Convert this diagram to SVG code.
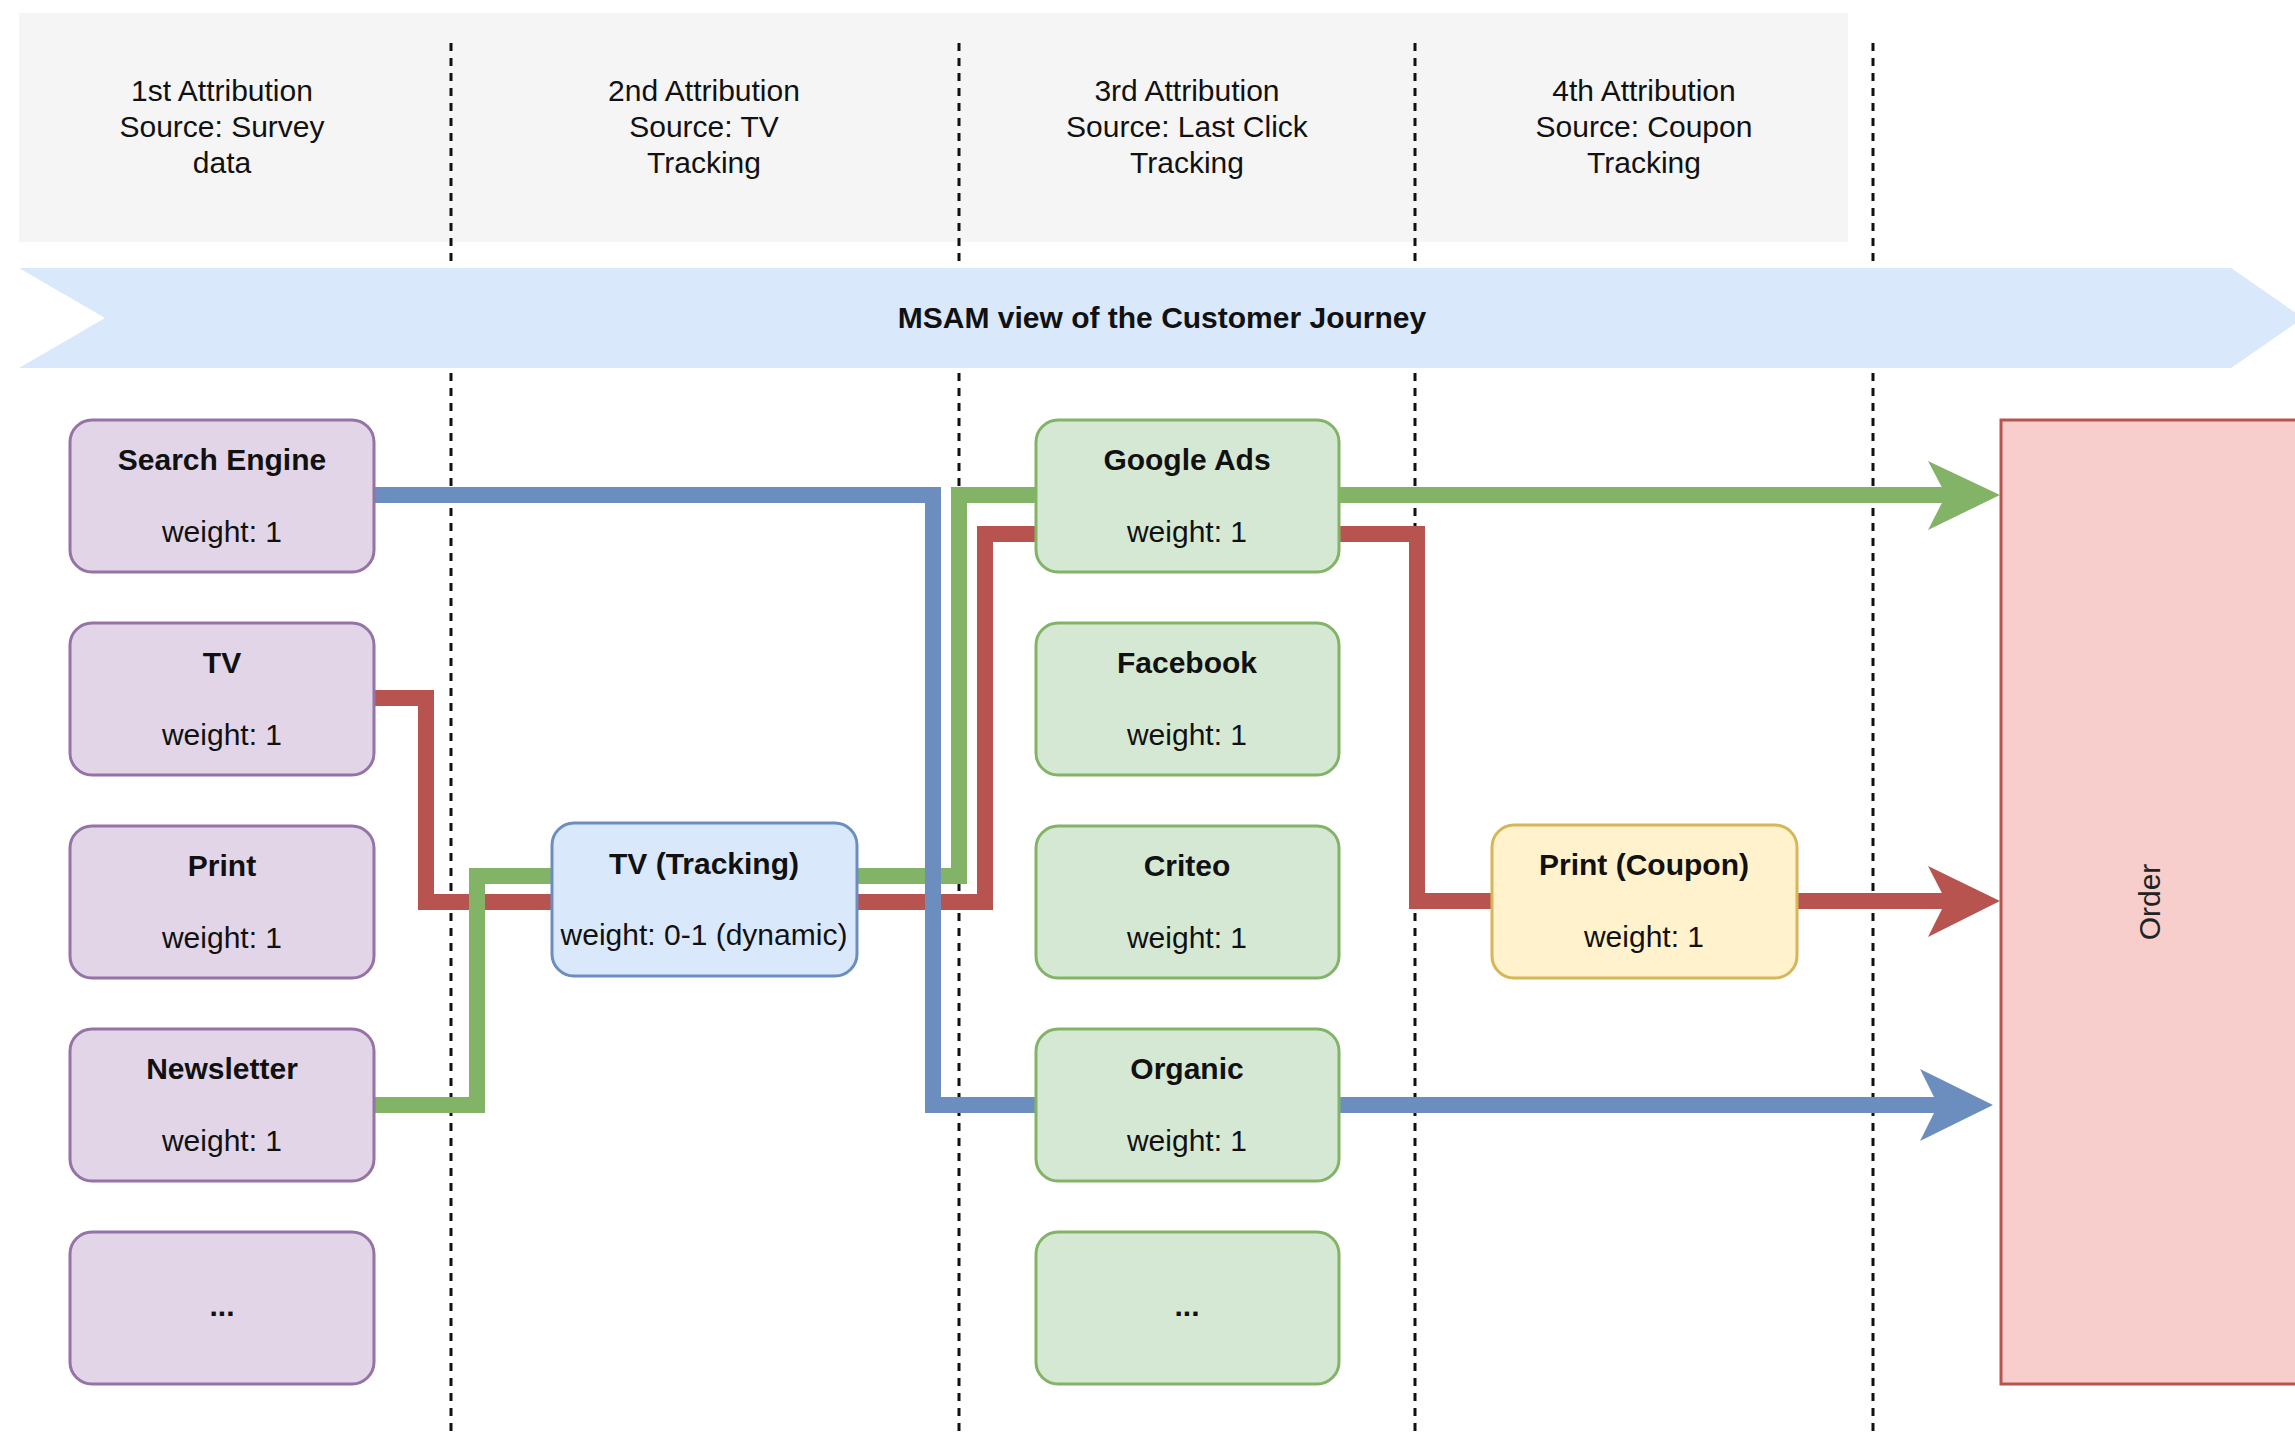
<svg xmlns="http://www.w3.org/2000/svg" width="2295" height="1438" viewBox="0 0 2295 1438">
<style>
text{font-family:"Liberation Sans",Arial,sans-serif;font-size:30px;fill:#111;text-anchor:middle}
.b{font-weight:bold}
.box{stroke-width:3}
.p{fill:#e1d5e7;stroke:#9673a6}
.g{fill:#d5e8d4;stroke:#82b366}
.bl{fill:#dae8fc;stroke:#6c8ebf}
.y{fill:#fff2cc;stroke:#d6b656}
.dash{stroke:#111;stroke-width:3;stroke-dasharray:8 7;fill:none}
.c{fill:none;stroke-width:16;stroke-linejoin:miter;stroke-linecap:butt}
.cg{stroke:#82b366}.cr{stroke:#b85450}.cb{stroke:#6c8ebf}
</style>
<g id="header">
<rect x="19" y="13" width="1829" height="229" fill="#f5f5f5"/>
<text x="222" y="101">1st Attribution</text><text x="222" y="137">Source: Survey</text><text x="222" y="173">data</text>
<text x="704" y="101">2nd Attribution</text><text x="704" y="137">Source: TV</text><text x="704" y="173">Tracking</text>
<text x="1187" y="101">3rd Attribution</text><text x="1187" y="137">Source: Last Click</text><text x="1187" y="173">Tracking</text>
<text x="1644" y="101">4th Attribution</text><text x="1644" y="137">Source: Coupon</text><text x="1644" y="173">Tracking</text>
</g>
<g id="dividers">
<line class="dash" x1="451" y1="43" x2="451" y2="1438"/>
<line class="dash" x1="959" y1="43" x2="959" y2="1438"/>
<line class="dash" x1="1415" y1="43" x2="1415" y2="1438"/>
<line class="dash" x1="1873" y1="43" x2="1873" y2="1438"/>
</g>
<g id="banner">
<polygon points="19,268 2231,268 2303,318 2231,368 19,368 105,318" fill="#dae8fc"/>
<text class="b" x="1162" y="328">MSAM view of the Customer Journey</text>
</g>
<g id="connectors">
<path class="c cr" d="M375 698 H426 V902 H552"/>
<path class="c cg" d="M375 1105 H477 V876 H552"/>
<path class="c cg" d="M857 876 H959 V495 H1036"/>
<path class="c cr" d="M857 902 H985 V534 H1036"/>
<path class="c cr" d="M1339 534 H1417 V901 H1492"/>
<path class="c cg" d="M1339 495 H1946"/>
<polygon points="1928,461 2000,495 1928,530 1946,495" fill="#82b366"/>
<path class="c cr" d="M1797 901 H1946"/>
<polygon points="1928,866 2000,901 1928,937 1946,901" fill="#b85450"/>
<path class="c cb" d="M375 495 H933 V1105 H1036"/>
<path class="c cb" d="M1339 1105 H1938"/>
<polygon points="1920,1069 1993,1105 1920,1141 1938,1105" fill="#6c8ebf"/>
</g>
<g id="n-search"><rect class="box p" x="70" y="420" width="304" height="152" rx="22"/><text class="b" x="222" y="470">Search Engine</text><text x="222" y="542">weight: 1</text></g>
<g id="n-tv"><rect class="box p" x="70" y="623" width="304" height="152" rx="22"/><text class="b" x="222" y="673">TV</text><text x="222" y="745">weight: 1</text></g>
<g id="n-print"><rect class="box p" x="70" y="826" width="304" height="152" rx="22"/><text class="b" x="222" y="876">Print</text><text x="222" y="948">weight: 1</text></g>
<g id="n-newsletter"><rect class="box p" x="70" y="1029" width="304" height="152" rx="22"/><text class="b" x="222" y="1079">Newsletter</text><text x="222" y="1151">weight: 1</text></g>
<g id="n-more1"><rect class="box p" x="70" y="1232" width="304" height="152" rx="22"/><text class="b" x="222" y="1316">...</text></g>
<g id="n-tvtracking"><rect class="box bl" x="552" y="823" width="305" height="153" rx="22"/><text class="b" x="704" y="874">TV (Tracking)</text><text x="704" y="945">weight: 0-1 (dynamic)</text></g>
<g id="n-googleads"><rect class="box g" x="1036" y="420" width="303" height="152" rx="22"/><text class="b" x="1187" y="470">Google Ads</text><text x="1187" y="542">weight: 1</text></g>
<g id="n-facebook"><rect class="box g" x="1036" y="623" width="303" height="152" rx="22"/><text class="b" x="1187" y="673">Facebook</text><text x="1187" y="745">weight: 1</text></g>
<g id="n-criteo"><rect class="box g" x="1036" y="826" width="303" height="152" rx="22"/><text class="b" x="1187" y="876">Criteo</text><text x="1187" y="948">weight: 1</text></g>
<g id="n-organic"><rect class="box g" x="1036" y="1029" width="303" height="152" rx="22"/><text class="b" x="1187" y="1079">Organic</text><text x="1187" y="1151">weight: 1</text></g>
<g id="n-more2"><rect class="box g" x="1036" y="1232" width="303" height="152" rx="22"/><text class="b" x="1187" y="1316">...</text></g>
<g id="n-printcoupon"><rect class="box y" x="1492" y="825" width="305" height="153" rx="22"/><text class="b" x="1644" y="875">Print (Coupon)</text><text x="1644" y="947">weight: 1</text></g>
<g id="n-order"><rect x="2001" y="420" width="310" height="964" fill="#f8cecc" stroke="#b85450" stroke-width="3"/><text x="2150" y="902" transform="rotate(-90 2150 902)" dy="10" style="fill:#222">Order</text></g>
</svg>
